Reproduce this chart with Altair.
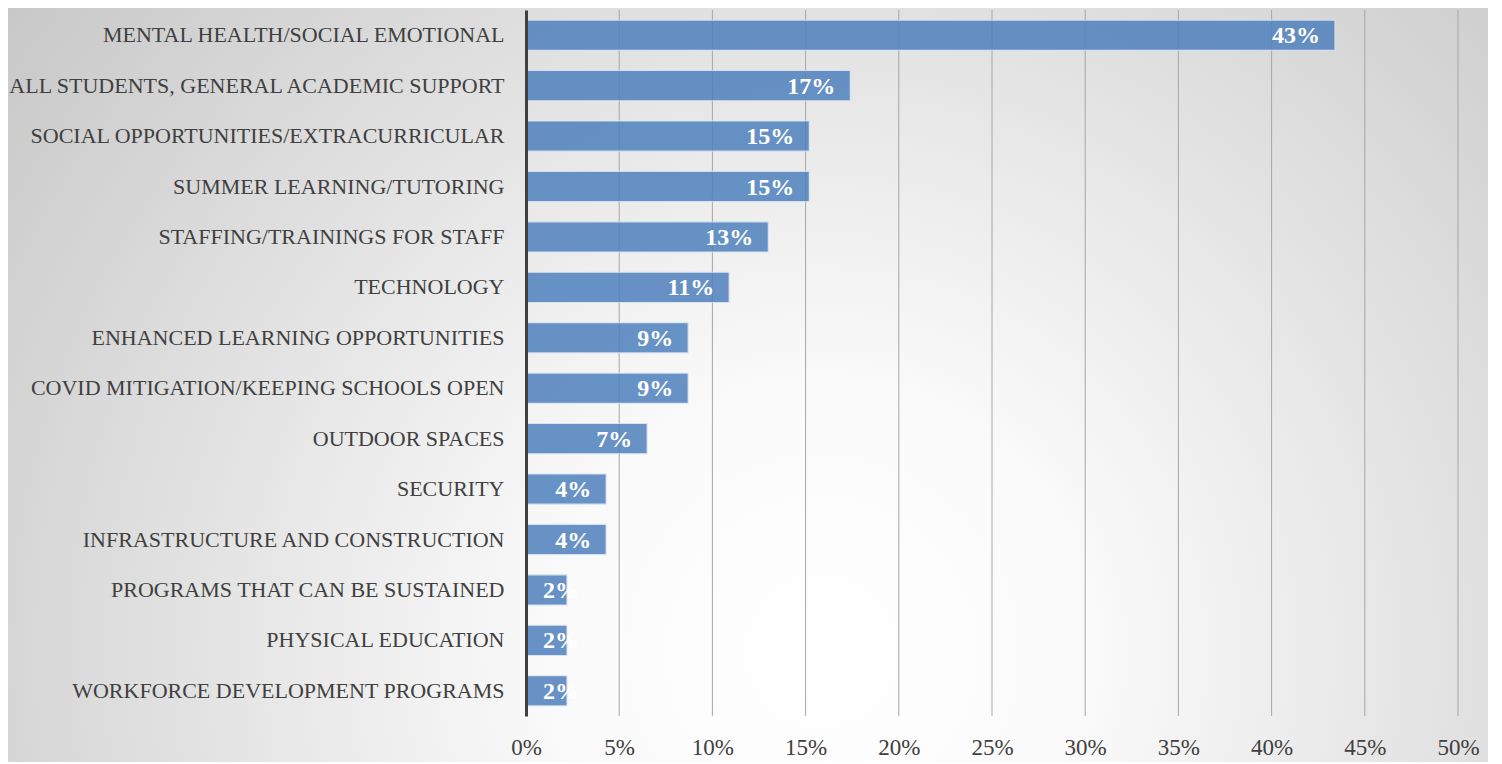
import altair as alt
import pandas as pd

categories = [
    "MENTAL HEALTH/SOCIAL EMOTIONAL",
    "ALL STUDENTS, GENERAL ACADEMIC SUPPORT",
    "SOCIAL OPPORTUNITIES/EXTRACURRICULAR",
    "SUMMER LEARNING/TUTORING",
    "STAFFING/TRAININGS FOR STAFF",
    "TECHNOLOGY",
    "ENHANCED LEARNING OPPORTUNITIES",
    "COVID MITIGATION/KEEPING SCHOOLS OPEN",
    "OUTDOOR SPACES",
    "SECURITY",
    "INFRASTRUCTURE AND CONSTRUCTION",
    "PROGRAMS THAT CAN BE SUSTAINED",
    "PHYSICAL EDUCATION",
    "WORKFORCE DEVELOPMENT PROGRAMS",
]
values = [43.4, 17.4, 15.2, 15.2, 13.0, 10.9, 8.7, 8.7, 6.5, 4.3, 4.3, 2.2, 2.2, 2.2]
labels = ["43%", "17%", "15%", "15%", "13%", "11%", "9%", "9%", "7%", "4%", "4%", "2%", "2%", "2%"]
axis_ticks = [0, 5, 10, 15, 20, 25, 30, 35, 40, 45, 50]
grid_ticks = [5, 10, 15, 20, 25, 30, 35, 40, 45, 50]

W, H = 932, 706
PAD = {"left": 518, "top": 2, "right": 30, "bottom": 46}
FONT = "Liberation Serif"

df = pd.DataFrame({"cat": categories, "value": values, "label": labels})
grid_df = pd.DataFrame({"t": grid_ticks})

xscale = alt.Scale(domain=[0, 50], nice=False)
yscale = alt.Scale(domain=categories, paddingInner=0.4, paddingOuter=0.2)

bg = alt.Chart(pd.DataFrame({"a": [0]})).mark_rect(
    fill={
        "gradient": "radial",
        "x1": 0.55, "y1": 0.68, "r1": 0,
        "x2": 0.55, "y2": 0.68, "r2": 0.72,
        "stops": [
            {"offset": 0, "color": "#ffffff"},
            {"offset": 0.25, "color": "#fafafa"},
            {"offset": 1, "color": "#c6c6c6"},
        ],
    }
).encode(
    x=alt.value(-PAD["left"]), x2=alt.value(W + PAD["right"]),
    y=alt.value(-PAD["top"]), y2=alt.value(H + PAD["bottom"]),
)

grid = alt.Chart(grid_df).mark_rule(color="#a6a6a6", strokeWidth=1).encode(
    x=alt.X("t:Q", scale=xscale),
    y=alt.value(0), y2=alt.value(H),
)

base = alt.Chart(df)

bars = base.mark_bar(
    color="#4f81bd", opacity=0.85, stroke="#dbe6f3", strokeWidth=1.2, strokeOpacity=0.9
).encode(
    x=alt.X("value:Q", scale=xscale,
            axis=alt.Axis(values=axis_ticks,
                          labelExpr="datum.value + '%'", grid=False, domain=False,
                          ticks=False, labelFont=FONT, labelFontSize=23,
                          labelFlush=False, labelOverlap=False, labelBound=False,
                          labelColor="#404040", labelPadding=20, title=None, zindex=1)),
    y=alt.Y("cat:N", scale=yscale, sort=categories,
            axis=alt.Axis(title=None, ticks=False, domain=True, domainColor="#404040",
                          domainWidth=3, labelFont=FONT, labelFontSize=22,
                          labelColor="#404040", labelPadding=22, labelLimit=600, zindex=1)),
)

text_big = base.transform_filter("datum.value >= 3").mark_text(
    align="right", baseline="middle", dx=-15, dy=1, font=FONT, fontSize=24,
    fontWeight="bold", color="white"
).encode(
    x=alt.X("value:Q", scale=xscale), y=alt.Y("cat:N", scale=yscale, sort=categories), text="label:N"
)

text_small = base.transform_filter("datum.value < 3").mark_text(
    align="left", baseline="middle", dx=17, dy=1, font=FONT, fontSize=24,
    fontWeight="bold", color="white"
).encode(
    x=alt.datum(0, scale=xscale), y=alt.Y("cat:N", scale=yscale, sort=categories), text="label:N"
)

chart = alt.layer(bg, grid, bars, text_big, text_small).properties(
    width=W, height=H, padding=PAD, autosize=alt.AutoSizeParams(type="none")
).configure_view(stroke=None)

chart.save("out.html", embed_options={"renderer": "svg", "actions": False})
